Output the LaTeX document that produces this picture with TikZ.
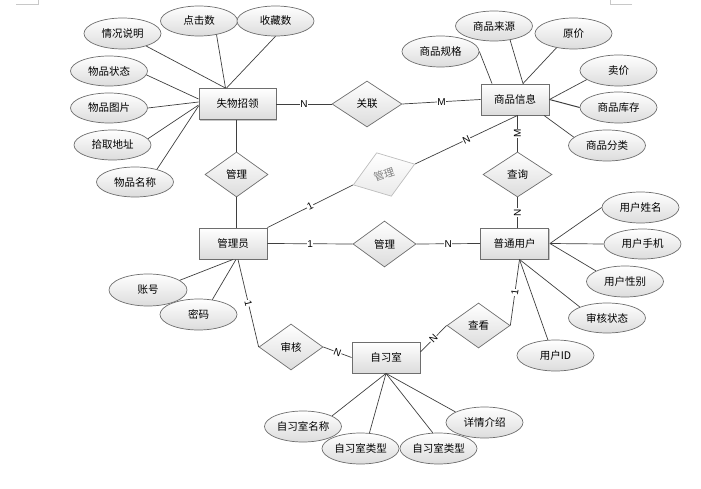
\documentclass[tikz,border=0pt]{standalone}
\usepackage{fontspec}
\setmainfont{Liberation Sans}
\newfontfamily\cjk{Noto Sans CJK SC}
\usetikzlibrary{shapes.geometric,shadows,calc}
\definecolor{bordergray}{HTML}{6E6E6E}
\definecolor{linegray}{HTML}{3F3F3F}
\definecolor{fillbot}{HTML}{DCDCDC}
\definecolor{lightbd}{HTML}{BDBDBD}
\definecolor{marktxt}{HTML}{808080}
\definecolor{cornergray}{HTML}{C8C8C8}
\tikzset{
  cjktext/.style={font=\cjk\fontsize{10.5}{12}\selectfont},
  ent/.style={rectangle, draw=bordergray, line width=0.9pt, top color=white, bottom color=fillbot,
    minimum width=68pt, minimum height=31pt, inner sep=0pt, cjktext,
    drop shadow={shadow xshift=1.2pt, shadow yshift=-1.2pt, fill=gray, opacity=0.45}},
  relbox/.style={diamond, draw=bordergray, line width=0.7pt, top color=white, bottom color=fillbot,
    minimum width=64pt, minimum height=46pt, inner sep=0pt, cjktext},
  attr/.style={ellipse, draw=bordergray, line width=0.7pt, top color=white, bottom color=fillbot,
    minimum width=77pt, minimum height=31pt, inner sep=0pt, cjktext},
  conn/.style={draw=linegray, line width=0.7pt},
  lbl/.style={fill=white, inner sep=0.6pt, font=\fontsize{10}{11}\selectfont, text=black},
}
\begin{document}
\begin{tikzpicture}[x=1pt, y=-1pt]
\useasboundingbox (0,0) rectangle (701,489);
% page corner marks
\draw[cornergray, line width=0.6pt] (16,4) -- (38,4) -- (38,0);
\draw[cornergray, line width=0.6pt] (632,4) -- (610,4) -- (610,0);

% entities
\node[ent, minimum width=77pt] (sw) at (237.5,104) {失物招领};
\node[ent] (sp) at (515,99.5) {商品信息};
\node[ent] (adm) at (233,243.5) {管理员};
\node[ent] (usr) at (514.5,243.5) {普通用户};
\node[ent] (room) at (386,357.5) {自习室};

% relationships
\node[relbox, minimum width=70pt] (gl) at (367,104) {关联};
\node[relbox, minimum width=63pt, minimum height=45pt] (mg1) at (236.5,174.5) {管理};
\node[relbox, minimum width=65pt, draw=lightbd, text=marktxt, bottom color=fillbot!60, rotate=18.7] (mg2) at (384,174.5) {管理};
\node[relbox, minimum width=69pt, minimum height=45pt] (qry) at (517.5,174.5) {查询};
\node[relbox, minimum width=63pt] (mg3) at (384.5,244) {管理};
\node[relbox] (aud) at (291,347) {审核};
\node[relbox, minimum width=63pt, minimum height=45pt] (view) at (478.5,325.5) {查看};

% attributes
\node[attr] (a1) at (122.5,33.5) {情况说明};
\node[attr, minimum height=30pt] (a2) at (199,21) {点击数};
\node[attr, minimum height=30pt] (a3) at (275.5,21) {收藏数};
\node[attr, minimum height=30pt] (a4) at (109,71) {物品状态};
\node[attr, minimum height=30pt] (a5) at (109,108) {物品图片};
\node[attr, minimum height=30pt] (a6) at (112.5,145) {拾取地址};
\node[attr, minimum height=30pt] (a7) at (135,182) {物品名称};

\node[attr] (b1) at (440.5,51.5) {商品规格};
\node[attr, minimum height=30pt] (b2) at (494,26) {商品来源};
\node[attr] (b3) at (573.5,33.5) {原价};
\node[attr] (b4) at (618.5,70.5) {卖价};
\node[attr] (b5) at (618.5,107.5) {商品库存};
\node[attr] (b6) at (607,145.5) {商品分类};

\node[attr] (c1) at (640.5,207.5) {用户姓名};
\node[attr, minimum height=30pt] (c2) at (642.5,244) {用户手机};
\node[attr] (c3) at (625,281.5) {用户性别};
\node[attr, minimum height=30pt] (c4) at (607,318) {审核状态};
\node[attr] (c5) at (555.5,355.5) {用户ID};

\node[attr, minimum width=78pt, minimum height=32pt] (d1) at (148,290) {账号};
\node[attr] (d2) at (198.5,314.5) {密码};

\node[attr] (e1) at (303,426.5) {自习室名称};
\node[attr] (e2) at (360.5,448.5) {自习室类型};
\node[attr] (e3) at (438.5,448.5) {自习室类型};
\node[attr] (e4) at (484.5,422.5) {详情介绍};

% attribute connectors
\draw[conn] (a1) -- ([xshift=-12pt]sw.north);
\draw[conn] (a2.-38) -- ([xshift=-12pt]sw.north);
\draw[conn] (a3.south) -- ([xshift=-11pt]sw.north);
\draw[conn] (a4.-6) -- ([yshift=5pt]sw.west);
\draw[conn] (a5.east) -- ([yshift=2pt]sw.west);
\draw[conn] (a6.10) -- ([yshift=-1pt]sw.west);
\draw[conn] (a7.30) -- ([yshift=-2pt]sw.west);

\draw[conn] (b1.east) -- ([xshift=-23pt]sp.north);
\draw[conn] (b2.-41) -- ([xshift=8pt]sp.north);
\draw[conn] (b3.220) -- ([xshift=8pt]sp.north);
\draw[conn] (b4.196) -- (sp.east);
\draw[conn, line width=1pt] (b5.west) -- (sp.east);
\draw[conn] (b6.166) -- ([xshift=29pt]sp.south);

\draw[conn] (c1.west) -- ([xshift=1pt]usr.east);
\draw[conn] (c2.west) -- ([xshift=1pt]usr.east);
\draw[conn] (c3.160) -- ([xshift=1pt]usr.east);
\draw[conn] (c4.158) -- ([xshift=5pt]usr.south);
\draw[conn] (c5.116) -- ([xshift=5pt]usr.south);

\draw[conn] (d1.17) -- (adm.south);
\draw[conn] (d2.47) -- ([xshift=3pt]adm.south);

\draw[conn] (e1.20) -- (room.south);
\draw[conn] (e2.60) -- (room.south);
\draw[conn] (e3.110) -- (room.south);
\draw[conn] (e4.160) -- (room.south);

% relationship connectors
\draw[conn] (sw.east) -- node[lbl] {N} (gl.west);
\draw[conn] (gl.east) -- node[lbl] {M} (sp.west);
\draw[conn] (mg1.north) -- (mg1.north |- sw.south);
\draw[conn] (mg1.south) -- (mg1.south |- adm.north);
\draw[conn] (adm.north east) -- node[lbl, sloped] {1} (mg2.west);
\draw[conn] (mg2.east) -- node[lbl, sloped] {N} (qry.north |- sp.south);
\draw[conn] (qry.north) -- node[lbl, rotate=90] {M} (qry.north |- sp.south);
\draw[conn] (qry.south) -- node[lbl, rotate=90] {N} (qry.south |- usr.north);
\draw[conn] (adm.east) -- node[lbl] {1} (mg3.west);
\draw[conn] (mg3.east) -- node[lbl] {N} (usr.west);
\draw[conn] ([xshift=5pt]adm.south) -- node[lbl, sloped] {1} (aud.west);
\draw[conn] (aud.east) -- node[lbl, sloped] {N} (room.west);
\draw[conn] ([yshift=5.5pt]room.east) -- node[lbl, sloped] {N} (view.west);
\draw[conn] (view.east) -- node[lbl, sloped] {1} ([xshift=5pt]usr.south);
\end{tikzpicture}
\end{document}
